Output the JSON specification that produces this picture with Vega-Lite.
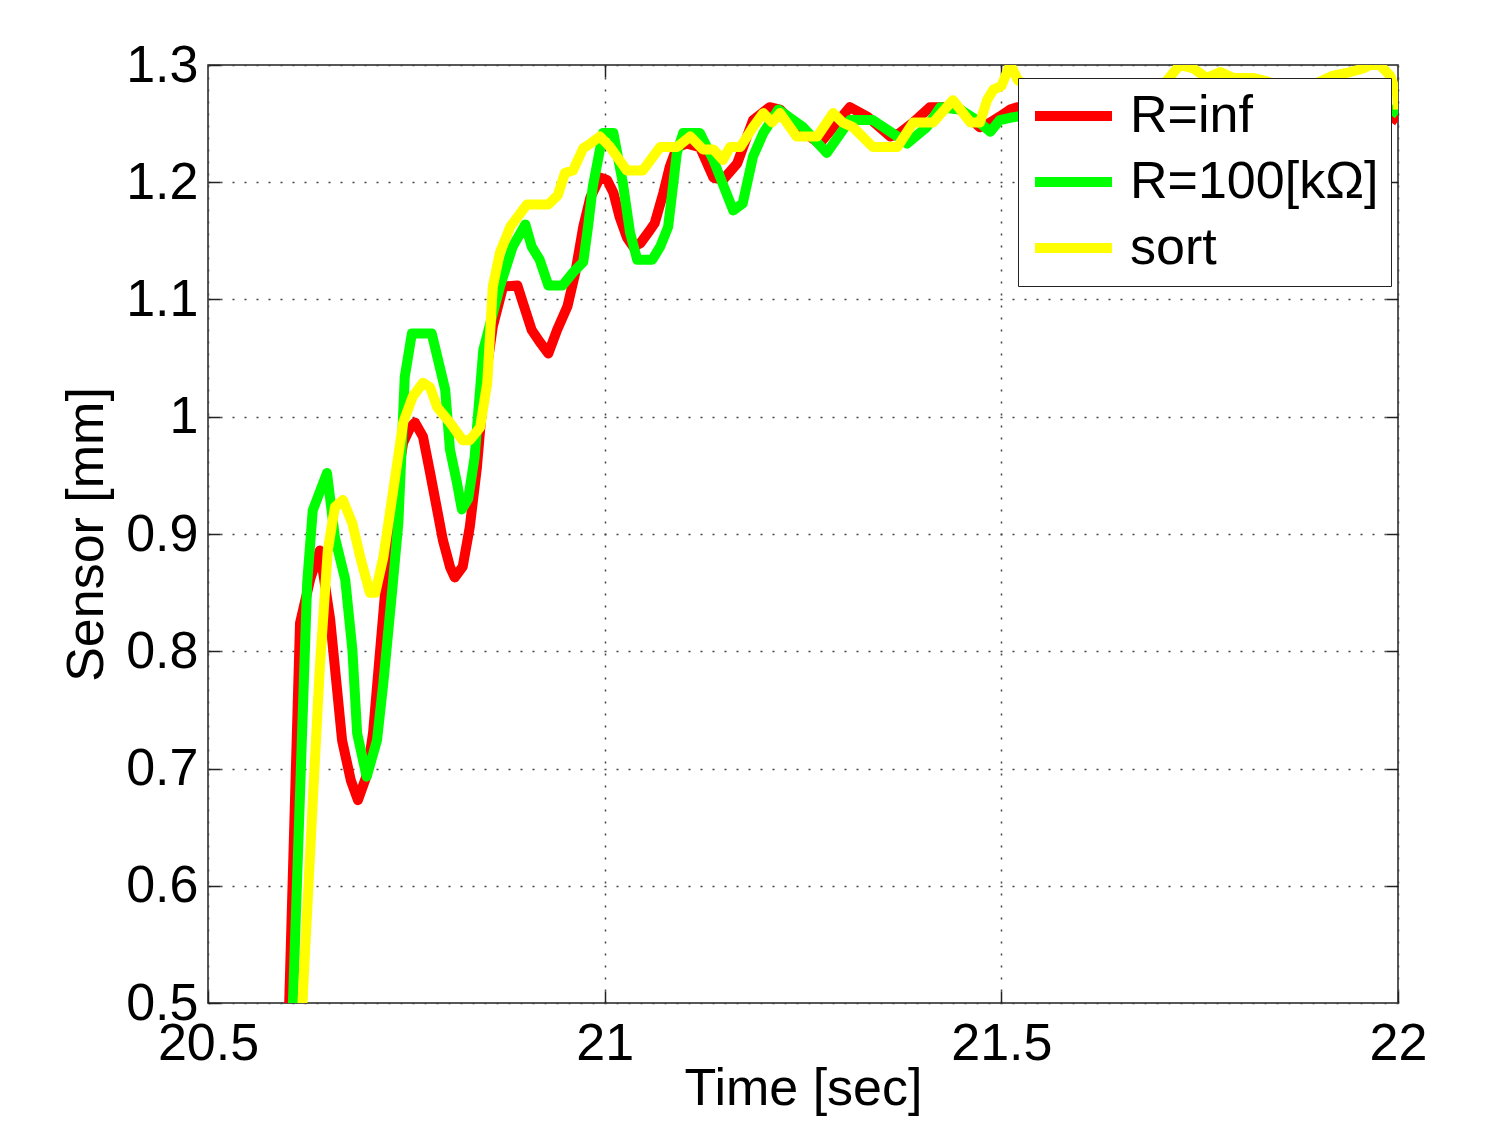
{
  "$schema": "https://vega.github.io/schema/vega-lite/v6.json",
  "width": 1190,
  "height": 938,
  "autosize": {"type": "none"},
  "padding": {"left": 208, "top": 65, "right": 87, "bottom": 122},
  "background": "white",
  "config": {
    "view": {"stroke": "#222", "strokeWidth": 1.5},
    "font": "Liberation Sans",
    "axis": {"labelFont": "Liberation Sans", "titleFont": "Liberation Sans", "labelColor": "black", "titleColor": "black", "titleFontWeight": "normal", "tickColor": "#222", "tickWidth": 1.5, "labelFlush": false, "labelOverlap": false, "labelBound": false}
  },
  "data": {
    "values": [
      {"s": "R=inf", "t": 20.599, "v": 0.42},
      {"s": "R=inf", "t": 20.616, "v": 0.824},
      {"s": "R=inf", "t": 20.629, "v": 0.862},
      {"s": "R=inf", "t": 20.641, "v": 0.886},
      {"s": "R=inf", "t": 20.654, "v": 0.827},
      {"s": "R=inf", "t": 20.669, "v": 0.724},
      {"s": "R=inf", "t": 20.680, "v": 0.690},
      {"s": "R=inf", "t": 20.689, "v": 0.673},
      {"s": "R=inf", "t": 20.700, "v": 0.694},
      {"s": "R=inf", "t": 20.708, "v": 0.730},
      {"s": "R=inf", "t": 20.717, "v": 0.801},
      {"s": "R=inf", "t": 20.726, "v": 0.872},
      {"s": "R=inf", "t": 20.736, "v": 0.935},
      {"s": "R=inf", "t": 20.746, "v": 0.978},
      {"s": "R=inf", "t": 20.755, "v": 0.991},
      {"s": "R=inf", "t": 20.761, "v": 0.995},
      {"s": "R=inf", "t": 20.771, "v": 0.983},
      {"s": "R=inf", "t": 20.780, "v": 0.952},
      {"s": "R=inf", "t": 20.789, "v": 0.920},
      {"s": "R=inf", "t": 20.796, "v": 0.895},
      {"s": "R=inf", "t": 20.805, "v": 0.872},
      {"s": "R=inf", "t": 20.811, "v": 0.863},
      {"s": "R=inf", "t": 20.821, "v": 0.872},
      {"s": "R=inf", "t": 20.830, "v": 0.906},
      {"s": "R=inf", "t": 20.839, "v": 0.957},
      {"s": "R=inf", "t": 20.847, "v": 1.020},
      {"s": "R=inf", "t": 20.859, "v": 1.077},
      {"s": "R=inf", "t": 20.872, "v": 1.111},
      {"s": "R=inf", "t": 20.890, "v": 1.112},
      {"s": "R=inf", "t": 20.897, "v": 1.097},
      {"s": "R=inf", "t": 20.908, "v": 1.074},
      {"s": "R=inf", "t": 20.918, "v": 1.064},
      {"s": "R=inf", "t": 20.929, "v": 1.054},
      {"s": "R=inf", "t": 20.940, "v": 1.074},
      {"s": "R=inf", "t": 20.953, "v": 1.094},
      {"s": "R=inf", "t": 20.963, "v": 1.123},
      {"s": "R=inf", "t": 20.973, "v": 1.162},
      {"s": "R=inf", "t": 20.982, "v": 1.187},
      {"s": "R=inf", "t": 20.994, "v": 1.204},
      {"s": "R=inf", "t": 21.003, "v": 1.202},
      {"s": "R=inf", "t": 21.011, "v": 1.191},
      {"s": "R=inf", "t": 21.019, "v": 1.170},
      {"s": "R=inf", "t": 21.028, "v": 1.153},
      {"s": "R=inf", "t": 21.036, "v": 1.145},
      {"s": "R=inf", "t": 21.045, "v": 1.148},
      {"s": "R=inf", "t": 21.057, "v": 1.159},
      {"s": "R=inf", "t": 21.063, "v": 1.165},
      {"s": "R=inf", "t": 21.074, "v": 1.191},
      {"s": "R=inf", "t": 21.082, "v": 1.213},
      {"s": "R=inf", "t": 21.091, "v": 1.230},
      {"s": "R=inf", "t": 21.104, "v": 1.233},
      {"s": "R=inf", "t": 21.120, "v": 1.230},
      {"s": "R=inf", "t": 21.137, "v": 1.204},
      {"s": "R=inf", "t": 21.149, "v": 1.202},
      {"s": "R=inf", "t": 21.167, "v": 1.216},
      {"s": "R=inf", "t": 21.187, "v": 1.253},
      {"s": "R=inf", "t": 21.208, "v": 1.264},
      {"s": "R=inf", "t": 21.221, "v": 1.262},
      {"s": "R=inf", "t": 21.246, "v": 1.245},
      {"s": "R=inf", "t": 21.271, "v": 1.233},
      {"s": "R=inf", "t": 21.309, "v": 1.264},
      {"s": "R=inf", "t": 21.331, "v": 1.256},
      {"s": "R=inf", "t": 21.360, "v": 1.239},
      {"s": "R=inf", "t": 21.372, "v": 1.242},
      {"s": "R=inf", "t": 21.389, "v": 1.251},
      {"s": "R=inf", "t": 21.410, "v": 1.264},
      {"s": "R=inf", "t": 21.432, "v": 1.264},
      {"s": "R=inf", "t": 21.448, "v": 1.262},
      {"s": "R=inf", "t": 21.473, "v": 1.247},
      {"s": "R=inf", "t": 21.486, "v": 1.251},
      {"s": "R=inf", "t": 21.498, "v": 1.256},
      {"s": "R=inf", "t": 21.511, "v": 1.262},
      {"s": "R=inf", "t": 21.520, "v": 1.264},
      {"s": "R=inf", "t": 21.55, "v": 1.262},
      {"s": "R=inf", "t": 21.59, "v": 1.268},
      {"s": "R=inf", "t": 21.63, "v": 1.262},
      {"s": "R=inf", "t": 21.67, "v": 1.270},
      {"s": "R=inf", "t": 21.71, "v": 1.266},
      {"s": "R=inf", "t": 21.75, "v": 1.272},
      {"s": "R=inf", "t": 21.79, "v": 1.264},
      {"s": "R=inf", "t": 21.83, "v": 1.270},
      {"s": "R=inf", "t": 21.87, "v": 1.262},
      {"s": "R=inf", "t": 21.91, "v": 1.268},
      {"s": "R=inf", "t": 21.95, "v": 1.264},
      {"s": "R=inf", "t": 21.984, "v": 1.258},
      {"s": "R=inf", "t": 21.992, "v": 1.256},
      {"s": "R=inf", "t": 22.000, "v": 1.252},

      {"s": "R=100[kΩ]", "t": 20.603, "v": 0.42},
      {"s": "R=100[kΩ]", "t": 20.625, "v": 0.858},
      {"s": "R=100[kΩ]", "t": 20.632, "v": 0.920},
      {"s": "R=100[kΩ]", "t": 20.650, "v": 0.952},
      {"s": "R=100[kΩ]", "t": 20.660, "v": 0.897},
      {"s": "R=100[kΩ]", "t": 20.673, "v": 0.861},
      {"s": "R=100[kΩ]", "t": 20.682, "v": 0.801},
      {"s": "R=100[kΩ]", "t": 20.688, "v": 0.730},
      {"s": "R=100[kΩ]", "t": 20.700, "v": 0.693},
      {"s": "R=100[kΩ]", "t": 20.713, "v": 0.724},
      {"s": "R=100[kΩ]", "t": 20.721, "v": 0.773},
      {"s": "R=100[kΩ]", "t": 20.733, "v": 0.858},
      {"s": "R=100[kΩ]", "t": 20.740, "v": 0.910},
      {"s": "R=100[kΩ]", "t": 20.748, "v": 1.034},
      {"s": "R=100[kΩ]", "t": 20.757, "v": 1.071},
      {"s": "R=100[kΩ]", "t": 20.782, "v": 1.071},
      {"s": "R=100[kΩ]", "t": 20.799, "v": 1.023},
      {"s": "R=100[kΩ]", "t": 20.805, "v": 0.972},
      {"s": "R=100[kΩ]", "t": 20.814, "v": 0.943},
      {"s": "R=100[kΩ]", "t": 20.820, "v": 0.921},
      {"s": "R=100[kΩ]", "t": 20.828, "v": 0.930},
      {"s": "R=100[kΩ]", "t": 20.836, "v": 0.965},
      {"s": "R=100[kΩ]", "t": 20.847, "v": 1.057},
      {"s": "R=100[kΩ]", "t": 20.868, "v": 1.111},
      {"s": "R=100[kΩ]", "t": 20.884, "v": 1.145},
      {"s": "R=100[kΩ]", "t": 20.900, "v": 1.164},
      {"s": "R=100[kΩ]", "t": 20.908, "v": 1.145},
      {"s": "R=100[kΩ]", "t": 20.918, "v": 1.134},
      {"s": "R=100[kΩ]", "t": 20.929, "v": 1.112},
      {"s": "R=100[kΩ]", "t": 20.947, "v": 1.112},
      {"s": "R=100[kΩ]", "t": 20.960, "v": 1.123},
      {"s": "R=100[kΩ]", "t": 20.973, "v": 1.132},
      {"s": "R=100[kΩ]", "t": 20.979, "v": 1.162},
      {"s": "R=100[kΩ]", "t": 20.985, "v": 1.196},
      {"s": "R=100[kΩ]", "t": 20.998, "v": 1.242},
      {"s": "R=100[kΩ]", "t": 21.011, "v": 1.242},
      {"s": "R=100[kΩ]", "t": 21.023, "v": 1.199},
      {"s": "R=100[kΩ]", "t": 21.032, "v": 1.157},
      {"s": "R=100[kΩ]", "t": 21.041, "v": 1.134},
      {"s": "R=100[kΩ]", "t": 21.060, "v": 1.134},
      {"s": "R=100[kΩ]", "t": 21.070, "v": 1.145},
      {"s": "R=100[kΩ]", "t": 21.080, "v": 1.162},
      {"s": "R=100[kΩ]", "t": 21.091, "v": 1.225},
      {"s": "R=100[kΩ]", "t": 21.099, "v": 1.242},
      {"s": "R=100[kΩ]", "t": 21.120, "v": 1.242},
      {"s": "R=100[kΩ]", "t": 21.137, "v": 1.219},
      {"s": "R=100[kΩ]", "t": 21.162, "v": 1.176},
      {"s": "R=100[kΩ]", "t": 21.174, "v": 1.182},
      {"s": "R=100[kΩ]", "t": 21.187, "v": 1.222},
      {"s": "R=100[kΩ]", "t": 21.200, "v": 1.242},
      {"s": "R=100[kΩ]", "t": 21.219, "v": 1.262},
      {"s": "R=100[kΩ]", "t": 21.250, "v": 1.247},
      {"s": "R=100[kΩ]", "t": 21.280, "v": 1.225},
      {"s": "R=100[kΩ]", "t": 21.309, "v": 1.253},
      {"s": "R=100[kΩ]", "t": 21.338, "v": 1.253},
      {"s": "R=100[kΩ]", "t": 21.369, "v": 1.239},
      {"s": "R=100[kΩ]", "t": 21.381, "v": 1.233},
      {"s": "R=100[kΩ]", "t": 21.406, "v": 1.247},
      {"s": "R=100[kΩ]", "t": 21.423, "v": 1.264},
      {"s": "R=100[kΩ]", "t": 21.448, "v": 1.262},
      {"s": "R=100[kΩ]", "t": 21.469, "v": 1.253},
      {"s": "R=100[kΩ]", "t": 21.486, "v": 1.243},
      {"s": "R=100[kΩ]", "t": 21.498, "v": 1.253},
      {"s": "R=100[kΩ]", "t": 21.511, "v": 1.255},
      {"s": "R=100[kΩ]", "t": 21.520, "v": 1.256},
      {"s": "R=100[kΩ]", "t": 21.56, "v": 1.258},
      {"s": "R=100[kΩ]", "t": 21.60, "v": 1.264},
      {"s": "R=100[kΩ]", "t": 21.64, "v": 1.258},
      {"s": "R=100[kΩ]", "t": 21.68, "v": 1.266},
      {"s": "R=100[kΩ]", "t": 21.72, "v": 1.262},
      {"s": "R=100[kΩ]", "t": 21.76, "v": 1.268},
      {"s": "R=100[kΩ]", "t": 21.80, "v": 1.262},
      {"s": "R=100[kΩ]", "t": 21.84, "v": 1.266},
      {"s": "R=100[kΩ]", "t": 21.88, "v": 1.260},
      {"s": "R=100[kΩ]", "t": 21.92, "v": 1.266},
      {"s": "R=100[kΩ]", "t": 21.96, "v": 1.262},
      {"s": "R=100[kΩ]", "t": 21.984, "v": 1.262},
      {"s": "R=100[kΩ]", "t": 21.992, "v": 1.262},
      {"s": "R=100[kΩ]", "t": 22.000, "v": 1.258},

      {"s": "sort", "t": 20.613, "v": 0.42},
      {"s": "sort", "t": 20.632, "v": 0.671},
      {"s": "sort", "t": 20.641, "v": 0.787},
      {"s": "sort", "t": 20.651, "v": 0.886},
      {"s": "sort", "t": 20.660, "v": 0.923},
      {"s": "sort", "t": 20.670, "v": 0.929},
      {"s": "sort", "t": 20.682, "v": 0.909},
      {"s": "sort", "t": 20.692, "v": 0.880},
      {"s": "sort", "t": 20.704, "v": 0.850},
      {"s": "sort", "t": 20.711, "v": 0.850},
      {"s": "sort", "t": 20.721, "v": 0.880},
      {"s": "sort", "t": 20.733, "v": 0.935},
      {"s": "sort", "t": 20.746, "v": 0.995},
      {"s": "sort", "t": 20.758, "v": 1.017},
      {"s": "sort", "t": 20.771, "v": 1.029},
      {"s": "sort", "t": 20.780, "v": 1.025},
      {"s": "sort", "t": 20.789, "v": 1.008},
      {"s": "sort", "t": 20.805, "v": 0.995},
      {"s": "sort", "t": 20.821, "v": 0.980},
      {"s": "sort", "t": 20.830, "v": 0.980},
      {"s": "sort", "t": 20.843, "v": 0.991},
      {"s": "sort", "t": 20.852, "v": 1.029},
      {"s": "sort", "t": 20.859, "v": 1.111},
      {"s": "sort", "t": 20.868, "v": 1.140},
      {"s": "sort", "t": 20.881, "v": 1.162},
      {"s": "sort", "t": 20.902, "v": 1.181},
      {"s": "sort", "t": 20.929, "v": 1.181},
      {"s": "sort", "t": 20.941, "v": 1.189},
      {"s": "sort", "t": 20.950, "v": 1.208},
      {"s": "sort", "t": 20.960, "v": 1.210},
      {"s": "sort", "t": 20.973, "v": 1.229},
      {"s": "sort", "t": 20.982, "v": 1.233},
      {"s": "sort", "t": 20.994, "v": 1.239},
      {"s": "sort", "t": 21.007, "v": 1.230},
      {"s": "sort", "t": 21.028, "v": 1.210},
      {"s": "sort", "t": 21.048, "v": 1.210},
      {"s": "sort", "t": 21.070, "v": 1.230},
      {"s": "sort", "t": 21.091, "v": 1.230},
      {"s": "sort", "t": 21.108, "v": 1.239},
      {"s": "sort", "t": 21.124, "v": 1.228},
      {"s": "sort", "t": 21.137, "v": 1.228},
      {"s": "sort", "t": 21.149, "v": 1.219},
      {"s": "sort", "t": 21.158, "v": 1.230},
      {"s": "sort", "t": 21.171, "v": 1.230},
      {"s": "sort", "t": 21.187, "v": 1.247},
      {"s": "sort", "t": 21.200, "v": 1.259},
      {"s": "sort", "t": 21.211, "v": 1.251},
      {"s": "sort", "t": 21.221, "v": 1.259},
      {"s": "sort", "t": 21.242, "v": 1.239},
      {"s": "sort", "t": 21.268, "v": 1.239},
      {"s": "sort", "t": 21.288, "v": 1.259},
      {"s": "sort", "t": 21.300, "v": 1.251},
      {"s": "sort", "t": 21.313, "v": 1.247},
      {"s": "sort", "t": 21.338, "v": 1.230},
      {"s": "sort", "t": 21.369, "v": 1.230},
      {"s": "sort", "t": 21.389, "v": 1.251},
      {"s": "sort", "t": 21.414, "v": 1.251},
      {"s": "sort", "t": 21.439, "v": 1.270},
      {"s": "sort", "t": 21.461, "v": 1.251},
      {"s": "sort", "t": 21.473, "v": 1.251},
      {"s": "sort", "t": 21.482, "v": 1.270},
      {"s": "sort", "t": 21.490, "v": 1.279},
      {"s": "sort", "t": 21.500, "v": 1.282},
      {"s": "sort", "t": 21.509, "v": 1.297},
      {"s": "sort", "t": 21.514, "v": 1.297},
      {"s": "sort", "t": 21.521, "v": 1.287},
      {"s": "sort", "t": 21.55, "v": 1.275},
      {"s": "sort", "t": 21.59, "v": 1.280},
      {"s": "sort", "t": 21.63, "v": 1.272},
      {"s": "sort", "t": 21.67, "v": 1.278},
      {"s": "sort", "t": 21.70, "v": 1.282},
      {"s": "sort", "t": 21.709, "v": 1.287},
      {"s": "sort", "t": 21.725, "v": 1.300},
      {"s": "sort", "t": 21.742, "v": 1.297},
      {"s": "sort", "t": 21.759, "v": 1.289},
      {"s": "sort", "t": 21.776, "v": 1.294},
      {"s": "sort", "t": 21.792, "v": 1.289},
      {"s": "sort", "t": 21.817, "v": 1.289},
      {"s": "sort", "t": 21.835, "v": 1.286},
      {"s": "sort", "t": 21.86, "v": 1.280},
      {"s": "sort", "t": 21.88, "v": 1.278},
      {"s": "sort", "t": 21.902, "v": 1.286},
      {"s": "sort", "t": 21.918, "v": 1.291},
      {"s": "sort", "t": 21.940, "v": 1.294},
      {"s": "sort", "t": 21.956, "v": 1.297},
      {"s": "sort", "t": 21.965, "v": 1.300},
      {"s": "sort", "t": 21.977, "v": 1.300},
      {"s": "sort", "t": 21.990, "v": 1.291},
      {"s": "sort", "t": 21.999, "v": 1.274},
      {"s": "sort", "t": 22.000, "v": 1.262}
    ]
  },
  "layer": [
    {
      "transform": [{"filter": "datum.s === 'R=inf'"}],
      "mark": {"type": "line", "strokeWidth": 10, "clip": true, "strokeJoin": "round"},
      "encoding": {
        "x": {"field": "t", "type": "quantitative", "scale": {"domain": [20.5, 22], "nice": false, "zero": false},
          "axis": {"orient": "bottom", "values": [20.5, 21, 21.5, 22], "format": "~g", "grid": true, "gridDash": [2, 10], "gridColor": "#444", "gridWidth": 1.5, "domain": false, "ticks": true, "tickSize": -12, "labelPadding": 27, "labelFontSize": 52, "title": "Time [sec]", "titleFontSize": 52, "titlePadding": -6}},
        "y": {"field": "v", "type": "quantitative", "scale": {"domain": [0.5, 1.3], "nice": false, "zero": false},
          "axis": {"orient": "left", "values": [0.5, 0.6, 0.7, 0.8, 0.9, 1, 1.1, 1.2, 1.3], "format": "~g", "grid": true, "gridDash": [2, 10], "gridColor": "#444", "gridWidth": 1.5, "domain": false, "ticks": true, "tickSize": -12, "labelPadding": 22, "labelFontSize": 52, "title": "Sensor [mm]", "titleFontSize": 52, "titlePadding": 12}},
        "color": {"field": "s", "type": "nominal",
          "scale": {"domain": ["R=inf", "R=100[kΩ]", "sort"], "range": ["#ff0000", "#00ff00", "#ffff00"]},
          "legend": {"orient": "none", "legendX": 810, "legendY": 13, "title": null, "symbolType": "stroke", "symbolStrokeWidth": 10, "symbolSize": 5929, "labelFontSize": 52, "labelFont": "Liberation Sans", "labelColor": "black", "labelLimit": 500, "labelOffset": 13, "fillColor": "white", "strokeColor": "#222", "padding": 12, "rowPadding": 14, "clipHeight": 52}}
      }
    },
    {
      "transform": [{"filter": "datum.s === 'R=100[kΩ]'"}],
      "mark": {"type": "line", "strokeWidth": 10, "clip": true, "strokeJoin": "round"},
      "encoding": {
        "x": {"field": "t", "type": "quantitative", "axis": null},
        "y": {"field": "v", "type": "quantitative", "axis": null},
        "color": {"field": "s", "type": "nominal"}
      }
    },
    {
      "transform": [{"filter": "datum.s === 'sort'"}],
      "mark": {"type": "line", "strokeWidth": 10, "clip": true, "strokeJoin": "round"},
      "encoding": {
        "x": {"field": "t", "type": "quantitative", "axis": null},
        "y": {"field": "v", "type": "quantitative", "axis": null},
        "color": {"field": "s", "type": "nominal"}
      }
    },
    {
      "transform": [{"filter": "datum.s === 'sort'"}],
      "mark": {"type": "line", "opacity": 0, "clip": true},
      "encoding": {
        "x": {"field": "t", "type": "quantitative",
          "axis": {"orient": "top", "values": [21, 21.5], "labels": false, "grid": false, "domain": false, "ticks": true, "tickSize": -12, "title": null}},
        "y": {"field": "v", "type": "quantitative",
          "axis": {"orient": "right", "values": [0.6, 0.7, 0.8, 0.9, 1, 1.1, 1.2], "labels": false, "grid": false, "domain": false, "ticks": true, "tickSize": -12, "title": null}}
      }
    }
  ],
  "resolve": {"axis": {"x": "independent", "y": "independent"}}
}
